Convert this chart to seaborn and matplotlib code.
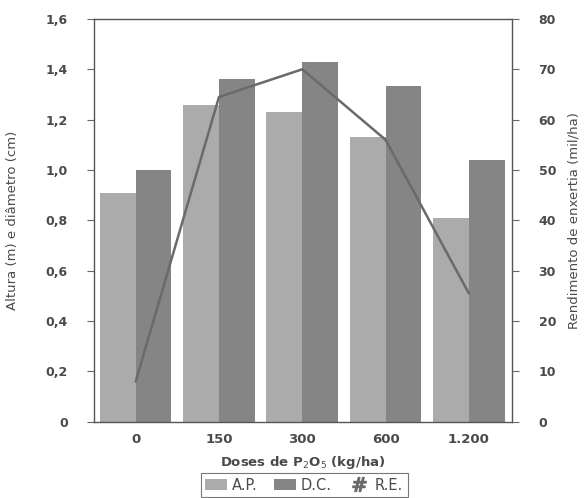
import pandas as pd
import matplotlib.pyplot as plt
import seaborn as sns
from matplotlib.patches import Patch
from matplotlib.lines import Line2D

# --- dados ---
doses = ['0', '150', '300', '600', '1.200']
altura = [0.91, 1.26, 1.23, 1.13, 0.81]        # A.P. (m)
diametro = [1.00, 1.36, 1.43, 1.335, 1.04]     # D.C. (cm)
rendimento = [8, 64.5, 70, 56, 25.5]           # R.E. (mil/ha)

left_ticks = [0, 0.2, 0.4, 0.6, 0.8, 1.0, 1.2, 1.4, 1.6]
left_labels = ['0', '0,2', '0,4', '0,6', '0,8', '1,0', '1,2', '1,4', '1,6']
right_ticks = [0, 10, 20, 30, 40, 50, 60, 70, 80]

cor_ap = '#ababab'
cor_dc = '#858585'
cor_re = '#6a6a6a'
cor_txt = '#4a4a4a'

df = pd.DataFrame({
    'dose': doses * 2,
    'valor': altura + diametro,
    'serie': ['A.P.'] * len(doses) + ['D.C.'] * len(doses),
})
df_re = pd.DataFrame({'dose': doses, 're': rendimento})

sns.set_style('white')
plt.rcParams['font.family'] = ['DejaVu Sans']

fig = plt.figure(figsize=(5.84, 4.98), dpi=100)
ax = fig.add_axes([0.161, 0.153, 0.716, 0.809])

sns.barplot(data=df, x='dose', y='valor', hue='serie', order=doses,
            palette=[cor_ap, cor_dc], width=0.86, gap=0, saturation=1,
            edgecolor='none', ax=ax, legend=False)

ax.set_ylim(0, 1.6)
ax.set_xlim(-0.5, 4.52)
ax.set_yticks(left_ticks)
ax.set_yticklabels(left_labels)
ax.set_xlabel('Doses de P$_2$O$_5$ (kg/ha)', fontsize=9.5, color=cor_txt,
              fontweight='bold', labelpad=6)
ax.set_ylabel('Altura (m) e diâmetro (cm)', fontsize=9.5, color=cor_txt, labelpad=19)
ax.tick_params(axis='y', direction='out', length=5, width=0.8, color='#666666',
               labelsize=9, labelcolor=cor_txt, pad=14)
ax.tick_params(axis='x', length=0, labelsize=9.5, labelcolor=cor_txt, pad=8)
for lab in ax.get_xticklabels() + ax.get_yticklabels():
    lab.set_fontweight('bold')
for sp in ax.spines.values():
    sp.set_color('#555555')
    sp.set_linewidth(1.0)

# eixo secundário: rendimento de enxertia
ax2 = ax.twinx()
sns.pointplot(data=df_re, x='dose', y='re', order=doses, color=cor_re,
              markers='', linewidth=1.8, ax=ax2)
ax2.set_ylim(0, 80)
ax2.set_xlim(-0.5, 4.52)
ax2.set_yticks(right_ticks)
ax2.set_ylabel('Rendimento de enxertia (mil/ha)', fontsize=9.5, color=cor_txt, labelpad=8)
ax2.tick_params(axis='y', direction='out', length=5, width=0.8, color='#666666',
                labelsize=9, labelcolor=cor_txt, pad=14)
for lab in ax2.get_yticklabels():
    lab.set_fontweight('bold')
for sp in ax2.spines.values():
    sp.set_visible(False)

# legenda abaixo do gráfico
handles = [
    Patch(facecolor=cor_ap, edgecolor='none', label='A.P.'),
    Patch(facecolor=cor_dc, edgecolor='none', label='D.C.'),
    Line2D([], [], color=cor_re, marker='$\\#$', linestyle='none',
           markersize=10, label='R.E.'),
]
leg = fig.legend(handles=handles, loc='center', bbox_to_anchor=(0.521, 0.026),
                 ncol=3, frameon=True, fontsize=10.5, handlelength=1.5,
                 handleheight=0.8, handletextpad=0.35, columnspacing=1.1,
                 borderpad=0.3, borderaxespad=0, fancybox=False)
leg.get_frame().set_edgecolor('#555555')
leg.get_frame().set_linewidth(0.8)
for t in leg.get_texts():
    t.set_color(cor_txt)

fig.savefig('out.png', dpi=100)
